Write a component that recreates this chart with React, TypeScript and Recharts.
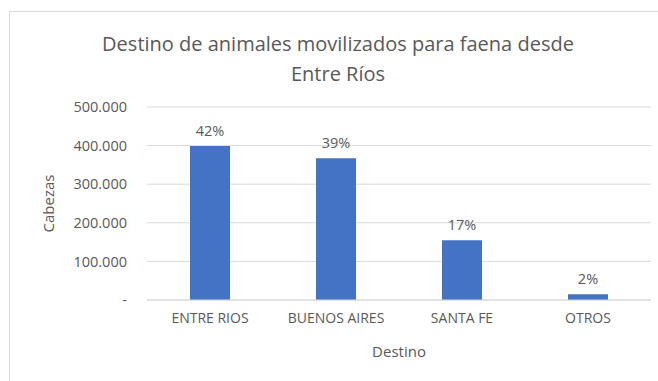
import { BarChart, Bar, XAxis, YAxis, CartesianGrid, LabelList } from "recharts";

const categories = ["ENTRE RIOS", "BUENOS AIRES", "SANTA FE", "OTROS"];
const cabezas = [399000, 367000, 155000, 15000];
const percentLabels = ["42%", "39%", "17%", "2%"];
const yTicks = [0, 100000, 200000, 300000, 400000, 500000];

const data = categories.map((name, i) => ({
  name,
  cabezas: cabezas[i],
  pct: percentLabels[i],
}));

const FONT = "'Open Sans', 'Noto Sans', sans-serif";
const TEXT = "#595959";

const formatTick = (v: number) =>
  v === 0 ? "-" : v.toLocaleString("de-DE");

export default function App() {
  return (
    <div
      style={{
        position: "absolute",
        left: 0,
        top: 0,
        width: 658,
        height: 381,
        background: "#fff",
        overflow: "hidden",
        fontFamily: FONT,
      }}
    >
      <div
        style={{
          position: "absolute",
          left: 9,
          top: 11,
          width: 700,
          height: 420,
          border: "1px solid #d9d9d9",
        }}
      />
      <div
        style={{
          position: "absolute",
          left: 0,
          top: 29,
          width: 676,
          textAlign: "center",
          fontSize: 20,
          lineHeight: "30px",
          color: TEXT,
        }}
      >
        Destino de animales movilizados para faena desde
        <br />
        Entre Ríos
      </div>
      <BarChart
        width={658}
        height={381}
        data={data}
        margin={{ top: 107, right: 7, bottom: 30, left: 67 }}
        barSize={40}
        style={{ position: "absolute", left: 0, top: 0 }}
      >
        <CartesianGrid vertical={false} stroke="#d9d9d9" />
        <XAxis
          dataKey="name"
          axisLine={{ stroke: "#d9d9d9" }}
          tickLine={false}
          tick={{ fill: TEXT, fontSize: 14, fontFamily: FONT }}
          tickMargin={7}
          height={51}
          label={{
            value: "Destino",
            position: "insideBottom",
            offset: -6,
            fill: TEXT,
            fontSize: 15,
            fontFamily: FONT,
          }}
        />
        <YAxis
          domain={[0, 500000]}
          ticks={yTicks}
          width={80}
          axisLine={false}
          tickLine={false}
          tickFormatter={formatTick}
          tick={{ fill: TEXT, fontSize: 14.5, fontFamily: FONT }}
          tickMargin={14}
          label={{
            value: "Cabezas",
            angle: -90,
            position: "insideLeft",
            offset: -18,
            fill: TEXT,
            fontSize: 15,
            fontFamily: FONT,
            style: { textAnchor: "middle" },
          }}
        />
        <Bar dataKey="cabezas" fill="#4472C4" isAnimationActive={false}>
          <LabelList
            dataKey="pct"
            position="top"
            offset={10}
            fill={TEXT}
            fontSize={14.5}
            fontFamily={FONT}
          />
        </Bar>
      </BarChart>
    </div>
  );
}
